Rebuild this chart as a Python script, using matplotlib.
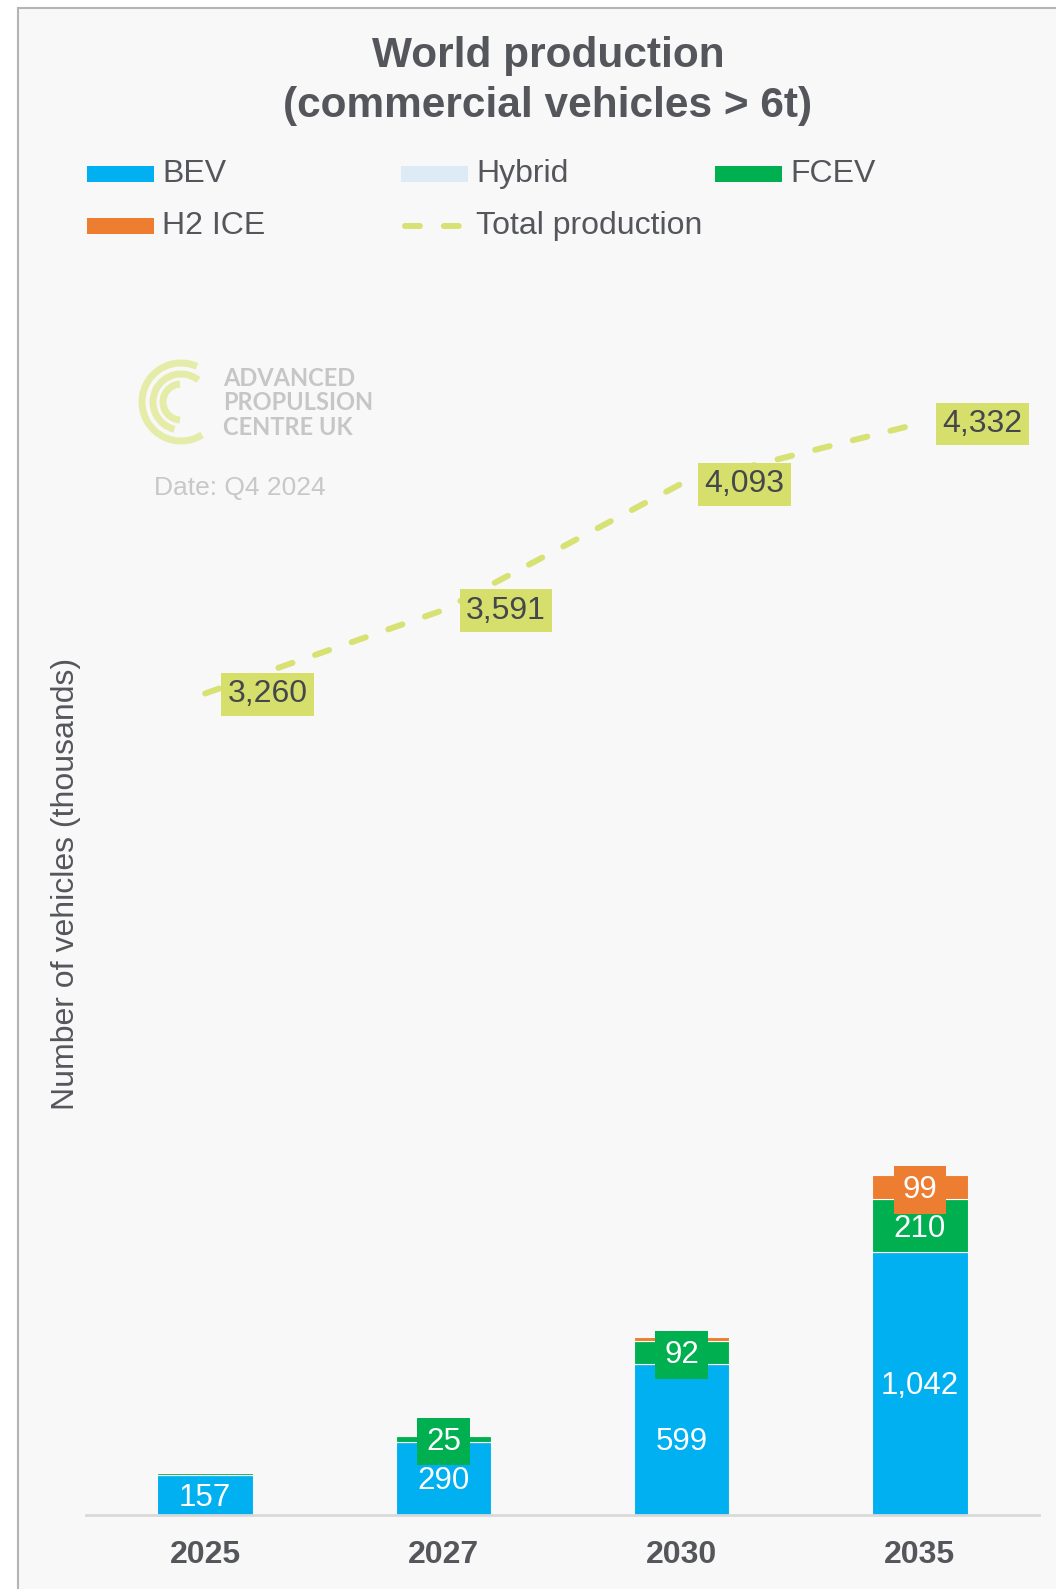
"""World production of commercial vehicles > 6t by powertrain."""

import matplotlib
matplotlib.use("Agg")
import matplotlib.pyplot as plt
from matplotlib.patches import Rectangle, Arc
from matplotlib.lines import Line2D

plt.rcParams["font.family"] = ["Liberation Sans", "DejaVu Sans"]

years = ["2025", "2027", "2030", "2035"]
bev = [157, 290, 599, 1042]
hybrid = [0, 0, 0, 0]
fcev = [8, 25, 92, 210]
h2_ice = [2, 3, 15, 99]
total = [3260, 3591, 4093, 4332]

C_BEV = "#00B0F0"
C_HYB = "#DDEBF7"
C_FCEV = "#00B050"
C_H2 = "#ED7D31"
C_LINE = "#D7E174"
C_BOX = "#D6DF6C"
C_TEXT = "#54565B"
BG = "#F8F8F8"

W, H = 1056, 1589
fig = plt.figure(figsize=(W / 100, H / 100), dpi=100)
fig.patch.set_facecolor("white")

def fx(px):
    return px / W

def fy(py):
    return 1 - py / H

# panel background with the grey frame on top/left
fig.add_artist(Rectangle((fx(18), -0.01), 1.2, fy(8) + 0.01, transform=fig.transFigure,
                         facecolor=BG, edgecolor="#B4B4B4", linewidth=1.5, zorder=0))

ax = fig.add_axes([fx(86), 1 - 1515 / H, fx(1039) - fx(86), (1515 - 255) / H])
ax.set_facecolor("none")
x = list(range(len(years)))
width = 0.4

bottoms = [0] * len(years)
series = [(bev, C_BEV), (hybrid, C_HYB), (fcev, C_FCEV), (h2_ice, C_H2)]
for vals, col in series:
    ax.bar(x, vals, width, bottom=bottoms, color=col, edgecolor=BG, linewidth=0.8, zorder=2)
    for i, v in enumerate(vals):
        if v < 20:
            continue
        # small segments get a box in the series colour, like the original
        box = None
        if v < 120:
            box = dict(boxstyle="square,pad=0.28", facecolor=col, edgecolor="none")
        ax.annotate(f"{v:,}", (x[i], bottoms[i] + v / 2), xytext=(0, -2), textcoords="offset points",
                    ha="center", va="center", color="white", fontsize=22.5, zorder=5, bbox=box)
    bottoms = [b + v for b, v in zip(bottoms, vals)]

ax.plot(x, total, color=C_LINE, linewidth=4.3, linestyle=(0, (2.5, 4)),
        dash_capstyle="round", zorder=3)
for i, v in enumerate(total):
    ax.annotate(f"{v:,}", (x[i], v), xytext=(45, -0.5), textcoords="offset points",
                ha="center", va="center", fontsize=23, color="#45474C", zorder=6,
                bbox=dict(boxstyle="square,pad=0.2", facecolor=C_BOX, edgecolor="none"))

ax.set_xlim(-0.5, 3.5)
ax.set_ylim(0, 5000)
ax.set_yticks([])
ax.set_xticks(x)
ax.set_xticklabels(years, fontsize=23, fontweight="bold", color=C_TEXT)
ax.tick_params(axis="x", length=0, pad=18)
for s in ["top", "right", "left"]:
    ax.spines[s].set_visible(False)
ax.spines["bottom"].set_color("#D9D9D9")
ax.spines["bottom"].set_linewidth(2)

fig.text(fx(66), fy(884), "Number of vehicles (thousands)", rotation=90,
         ha="center", va="center", fontsize=23, color=C_TEXT)

fig.text(fx(548), fy(81), "World production\n(commercial vehicles > 6t)", ha="center",
         va="center", fontsize=30.5, fontweight="bold", color=C_TEXT, linespacing=1.3)

# legend laid out like the Excel one (fixed column slots)
legend_items = [
    ("BEV", C_BEV, 87, 174, "patch"),
    ("Hybrid", C_HYB, 401, 174, "patch"),
    ("FCEV", C_FCEV, 715, 174, "patch"),
    ("H2 ICE", C_H2, 87, 226, "patch"),
    ("Total production", C_LINE, 401, 226, "line"),
]
for label, col, px, py, kind in legend_items:
    if kind == "patch":
        fig.add_artist(Rectangle((fx(px), fy(py + 8)), fx(67), 16 / H,
                                 transform=fig.transFigure, facecolor=col, edgecolor="none"))
    else:
        fig.add_artist(Line2D([fx(px + 4), fx(px + 63)], [fy(py), fy(py)], transform=fig.transFigure,
                              color=col, linewidth=4.3, linestyle=(0, (2.5, 4)),
                              dash_capstyle="round"))
    fig.text(fx(px + 75), fy(py), label, ha="left", va="center", fontsize=23, color=C_TEXT)

# logo
logo_c = (181, 402)
for r, t1, t2 in [(39, 56, 314), (28, 40, 250), (18, 95, 265)]:
    fig.add_artist(Arc((fx(logo_c[0]), fy(logo_c[1])), 2 * r / W, 2 * r / H, theta1=t1, theta2=t2,
                       transform=fig.transFigure, color="#E4ECA8", linewidth=5))
fig.text(fx(223), fy(403), "ADVANCED\nPROPULSION\nCENTRE UK", ha="left", va="center",
         fontsize=17, fontweight="bold", color="#C6C6C6", family=["Lato", "DejaVu Sans"],
         linespacing=1.08)
fig.text(fx(154), fy(488), "Date: Q4 2024", ha="left", va="center", fontsize=19, color="#C8C8C8")

fig.savefig("out.png", dpi=100, facecolor=fig.get_facecolor())
